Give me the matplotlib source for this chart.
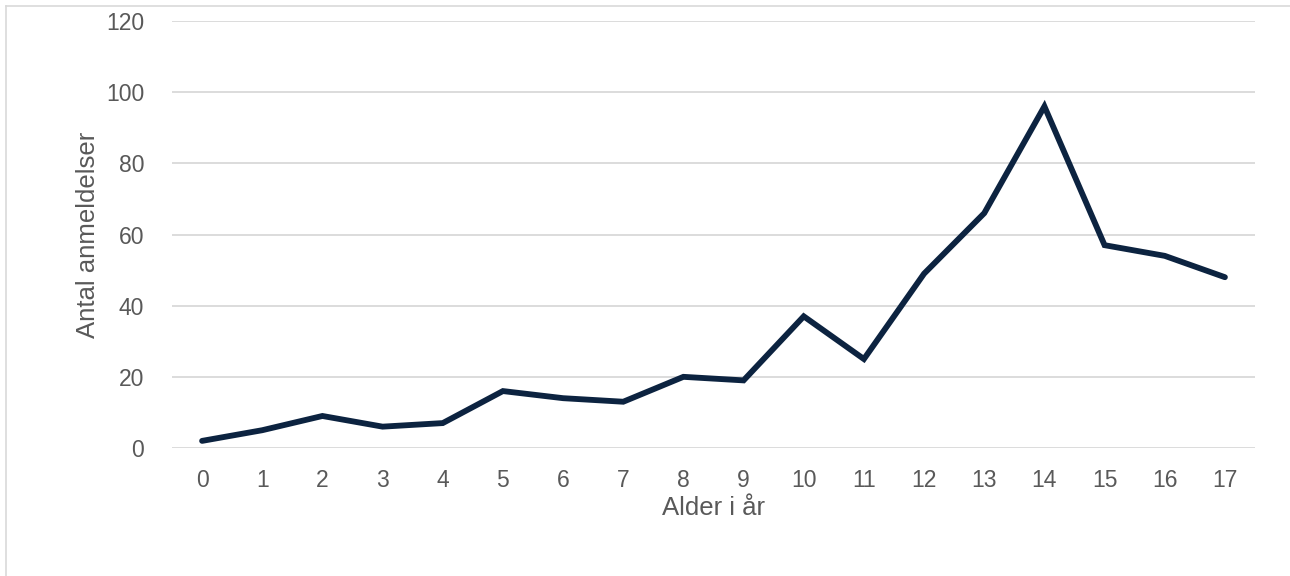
import matplotlib
matplotlib.use("Agg")
import matplotlib.pyplot as plt
from matplotlib.lines import Line2D

# ---- data ----
ages = [str(a) for a in range(18)]
anmeldelser = [2, 5, 9, 6, 7, 16, 14, 13, 20, 19, 37, 25, 49, 66, 96, 57, 54, 48]
y_ticks = [0, 20, 40, 60, 80, 100, 120]

x_label = "Alder i år"
y_label = "Antal anmeldelser"

# ---- style ----
plt.rcParams['font.family'] = ['Liberation Sans', 'DejaVu Sans']
TEXT_COLOR = '#595959'
GRID_COLOR = '#D9D9D9'
LINE_COLOR = '#0C2340'

fig = plt.figure(figsize=(12.9, 5.76), dpi=100)
ax = fig.add_axes([172 / 1290, 1 - 448 / 576, (1255 - 172) / 1290, (448 - 21) / 576])

x = list(range(len(ages)))
ax.plot(x, anmeldelser, color=LINE_COLOR, linewidth=4.2,
        solid_capstyle='round', solid_joinstyle='miter', zorder=3)

ax.set_xlim(-0.5, len(ages) - 0.5)
ax.set_ylim(0, 120)
ax.set_xticks(x)
ax.set_xticklabels(ages)
ax.set_yticks(y_ticks)

ax.grid(axis='y', color=GRID_COLOR, linewidth=1.3)
ax.set_axisbelow(True)
for s in ax.spines.values():
    s.set_visible(False)
ax.tick_params(length=0, labelsize=16.5, colors=TEXT_COLOR)
ax.tick_params(axis='x', pad=15)
ax.tick_params(axis='y', pad=20)

ax.set_xlabel(x_label, fontsize=18.5, color=TEXT_COLOR, labelpad=3)
ax.set_ylabel(y_label, fontsize=18.5, color=TEXT_COLOR, labelpad=4)

# outer chart border (cropped at right and bottom in the original)
fig.add_artist(Line2D([6 / 1290, 6 / 1290], [0, 1 - 6 / 576],
                      transform=fig.transFigure, color=GRID_COLOR, linewidth=1.2))
fig.add_artist(Line2D([6 / 1290, 1], [1 - 6 / 576, 1 - 6 / 576],
                      transform=fig.transFigure, color=GRID_COLOR, linewidth=1.2))

fig.savefig("out.png", dpi=100)
